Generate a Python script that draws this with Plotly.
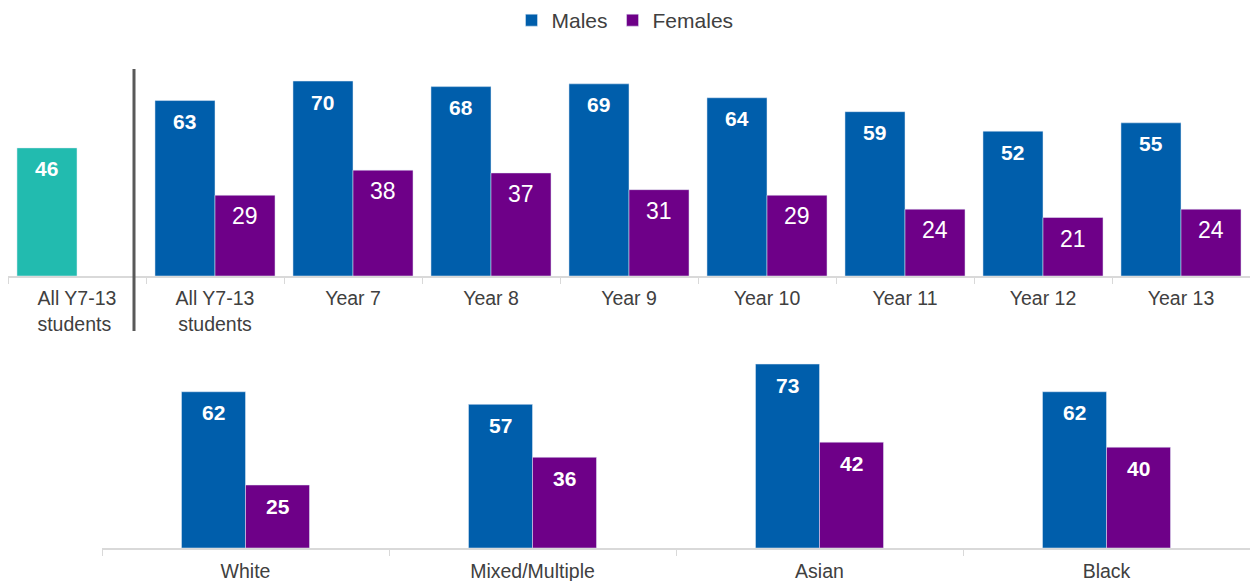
import plotly.graph_objects as go

# Top panel: share by school year (overall, then split by sex)
overall_label = "All Y7-13<br>students "
overall_value = [46]
year_groups = ["All Y7-13<br>students", "Year 7", "Year 8", "Year 9", "Year 10",
               "Year 11", "Year 12", "Year 13"]
year_males = [63, 70, 68, 69, 64, 59, 52, 55]
year_females = [29, 38, 37, 31, 29, 24, 21, 24]

# Bottom panel: split by ethnic group
ethnic_groups = ["White", "Mixed/Multiple", "Asian", "Black"]
ethnic_males = [62, 57, 73, 62]
ethnic_females = [25, 36, 42, 40]

BLUE = "#005EAB"
PURPLE = "#6E0088"
TEAL = "#22BBAF"
GREY_TEXT = "#404040"
AXIS_GREY = "#D9D9D9"
FONT = "Liberation Sans, Arial, sans-serif"

W, H = 1250, 581
TOP_W = 0.435   # bar width in category units, top panel
BOT_W = 0.223   # bar width in category units, bottom panel

top_cats = [overall_label] + year_groups

fig = go.Figure()

fig.add_trace(go.Bar(x=[overall_label], y=overall_value, marker_color=TEAL,
                     width=TOP_W, offset=-TOP_W, showlegend=False,
                     xaxis="x", yaxis="y", hoverinfo="x+y"))
fig.add_trace(go.Bar(x=year_groups, y=year_males, name="Males", marker_color=BLUE,
                     width=TOP_W, offset=-TOP_W, legendgroup="m",
                     xaxis="x", yaxis="y"))
fig.add_trace(go.Bar(x=year_groups, y=year_females, name="Females", marker_color=PURPLE,
                     width=TOP_W, offset=0, legendgroup="f",
                     xaxis="x", yaxis="y"))
fig.add_trace(go.Bar(x=ethnic_groups, y=ethnic_males, name="Males", marker_color=BLUE,
                     width=BOT_W, offset=-BOT_W, legendgroup="m", showlegend=False,
                     xaxis="x2", yaxis="y2"))
fig.add_trace(go.Bar(x=ethnic_groups, y=ethnic_females, name="Females", marker_color=PURPLE,
                     width=BOT_W, offset=0, legendgroup="f", showlegend=False,
                     xaxis="x2", yaxis="y2"))

annotations = []


def label(xref, yref, x, y, dx, bold, size):
    txt = f"<b>{y}</b>" if bold else f"{y}"
    annotations.append(dict(
        x=x, y=y, xref=xref, yref=yref, text=txt, showarrow=False,
        xshift=dx, yshift=-21, yanchor="middle", xanchor="center",
        font=dict(family=FONT, size=size, color="white")))


top_half = 138 * TOP_W / 2
bot_half = 287 * BOT_W / 2

label("x", "y", overall_label, overall_value[0], -top_half, True, 21)
for cat, m, f in zip(year_groups, year_males, year_females):
    label("x", "y", cat, m, -top_half, True, 21)
    label("x", "y", cat, f, top_half, False, 23)
for cat, m, f in zip(ethnic_groups, ethnic_males, ethnic_females):
    label("x2", "y2", cat, m, -bot_half, True, 21)
    label("x2", "y2", cat, f, bot_half, True, 21)

axis_common = dict(
    type="category", showline=True, linecolor=AXIS_GREY, linewidth=1.5,
    ticks="outside", ticklen=6, tickcolor=AXIS_GREY, tickwidth=1,
    tickson="boundaries", showgrid=False, zeroline=False,
    tickfont=dict(family=FONT, size=19.5, color=GREY_TEXT), fixedrange=True,
)

fig.update_layout(
    width=W, height=H,
    margin=dict(l=0, r=0, t=0, b=0),
    paper_bgcolor="white", plot_bgcolor="white",
    barmode="overlay",
    font=dict(family=FONT, color=GREY_TEXT),
    xaxis=dict(domain=[8 / W, 1.0], anchor="y", ticklabelstandoff=4,
               categoryorder="array", categoryarray=top_cats, **axis_common),
    yaxis=dict(domain=[(H - 276) / H, (H - 53.2) / H], range=[0, 80],
               visible=False, anchor="x"),
    xaxis2=dict(domain=[102 / W, 1.0], anchor="y2", ticklabelstandoff=5,
                categoryorder="array", categoryarray=ethnic_groups, **axis_common),
    yaxis2=dict(domain=[(H - 548) / H, (H - 346.4) / H], range=[0, 80],
                visible=False, anchor="x2"),
    legend=dict(orientation="h", x=0.5, xanchor="center", y=1.0, yanchor="top",
                font=dict(family=FONT, size=21, color=GREY_TEXT),
                itemwidth=30, bgcolor="rgba(0,0,0,0)"),
    annotations=annotations,
    shapes=[dict(type="line", xref="paper", yref="paper",
                 x0=134 / W, x1=134 / W, y0=(H - 331) / H, y1=(H - 69) / H,
                 line=dict(color="#595959", width=3))],
)

fig.write_html("out.html")
